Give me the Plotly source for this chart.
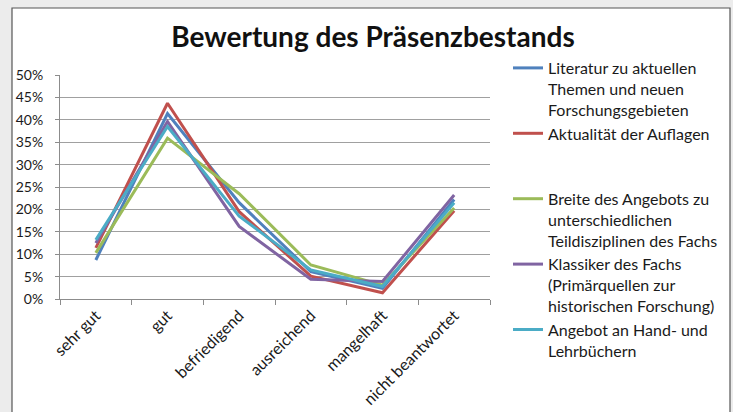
import plotly.graph_objects as go

categories = ["sehr gut", "gut", "befriedigend", "ausreichend", "mangelhaft", "nicht beantwortet"]

series_names = [
    "Literatur zu aktuellen<br>Themen und neuen<br>Forschungsgebieten",
    "Aktualität der Auflagen<br> <br> ",
    "Breite des Angebots zu<br>unterschiedlichen<br>Teildisziplinen des Fachs",
    "Klassiker des Fachs<br>(Primärquellen zur<br>historischen Forschung)",
    "Angebot an Hand- und<br>Lehrbüchern",
]
literatur = [0.087, 0.414, 0.215, 0.061, 0.024, 0.222]
aktualitaet = [0.114, 0.437, 0.195, 0.051, 0.014, 0.197]
breite = [0.103, 0.359, 0.235, 0.076, 0.031, 0.203]
klassiker = [0.125, 0.396, 0.162, 0.044, 0.039, 0.232]
angebot = [0.132, 0.385, 0.185, 0.065, 0.028, 0.215]
series_values = [literatur, aktualitaet, breite, klassiker, angebot]
colors = ["#4F81BD", "#C0504D", "#9BBB59", "#8064A2", "#4BACC6"]

y_ticks = [0, 0.05, 0.10, 0.15, 0.20, 0.25, 0.30, 0.35, 0.40, 0.45, 0.50]
y_tick_labels = ["0%", "5%", "10%", "15%", "20%", "25%", "30%", "35%", "40%", "45%", "50%"]

FONT = "Lato"

fig = go.Figure()
for name, vals, col in zip(series_names, series_values, colors):
    fig.add_trace(go.Scatter(x=categories, y=vals, name=name, mode="lines",
                             line=dict(color=col, width=3)))

# plot area: x 60..490, y 75..299 (px)
L, R, T, B = 60, 243, 75, 113
pw, ph = 733 - L - R, 412 - T - B

def px_x(x):
    return (x - L) / pw

def px_y(y):
    return (412 - B - y) / ph

fig.add_shape(type="rect", xref="paper", yref="paper",
              x0=px_x(12), x1=px_x(730), y0=px_y(430), y1=px_y(8),
              fillcolor="white", line=dict(color="#555555", width=1.2), layer="below")

fig.update_layout(
    width=733, height=412,
    margin=dict(l=L, r=R, t=T, b=B, autoexpand=False),
    paper_bgcolor="#ececec",
    plot_bgcolor="rgba(0,0,0,0)",
    font=dict(family=FONT, size=15, color="#1a1a1a"),
    title=dict(text="<b>Bewertung des Präsenzbestands</b>", xref="container", x=373 / 733,
               xanchor="center", yref="container", y=1 - 37 / 412, yanchor="middle",
               font=dict(family=FONT, size=28, color="#111111")),
    showlegend=True,
    legend=dict(x=px_x(508), xanchor="left", y=px_y(51), yanchor="top",
                valign="top", font=dict(family=FONT, size=16, color="#1a1a1a"),
                bgcolor="rgba(0,0,0,0)", tracegroupgap=0, itemwidth=30, maxheight=400),
    xaxis=dict(type="category", tickangle=-45, showgrid=False, automargin=False,
               showline=True, linecolor="#8c8c8c", linewidth=1,
               ticks="outside", ticklen=5, tickcolor="#8c8c8c", tickson="boundaries",
               tickfont=dict(size=16), range=[-0.5, 5.5]),
    yaxis=dict(range=[0, 0.5], tickvals=y_ticks, ticktext=y_tick_labels, automargin=False,
               showgrid=True, gridcolor="#a0a0a0", gridwidth=1.3,
               showline=True, linecolor="#8c8c8c", linewidth=1,
               ticks="outside", ticklen=4, tickcolor="#8c8c8c",
               tickfont=dict(size=14), zeroline=False, ticklabelstandoff=9),
)

fig.write_html("out.html", config={"displayModeBar": False},
               post_script="document.body.style.margin='0px';")
